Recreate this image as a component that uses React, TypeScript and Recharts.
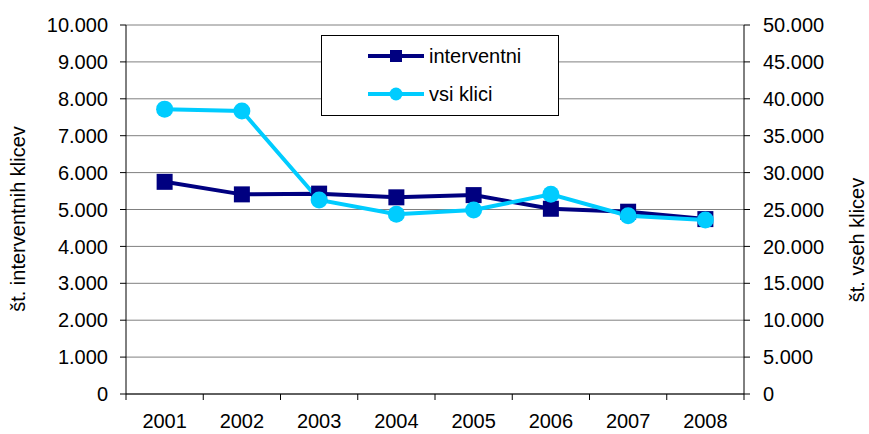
import React from "react";
import {
  LineChart,
  Line,
  XAxis,
  YAxis,
  CartesianGrid,
} from "recharts";

const years = ["2001", "2002", "2003", "2004", "2005", "2006", "2007", "2008"];
const interventni = [5750, 5410, 5430, 5330, 5390, 5020, 4940, 4740];
const vsiKlici = [38600, 38350, 26290, 24350, 24930, 27060, 24160, 23580];
const leftTicks = [0, 1000, 2000, 3000, 4000, 5000, 6000, 7000, 8000, 9000, 10000];
const rightTicks = [0, 5000, 10000, 15000, 20000, 25000, 30000, 35000, 40000, 45000, 50000];

const data = years.map((y, i) => ({
  year: y,
  interventni: interventni[i],
  vsi: vsiKlici[i],
}));

const NAVY = "#000080";
const CYAN = "#00CCFF";
const FONT = "'Liberation Sans', Arial, sans-serif";

const fmt = (v: number) => String(v).replace(/\B(?=(\d{3})+(?!\d))/g, ".");

const X_TICK_SIZE = 6;
const X_TICK_MARGIN = 14;

// category label plus a small tick at the left edge of each band (and the right edge of the last one)
const YearTick = (props: any) => {
  const { x, y, payload, index, visibleTicksCount } = props;
  const half = payload.offset || 38.6;
  const axisY = y - X_TICK_SIZE - X_TICK_MARGIN;
  return (
    <g>
      <line x1={x - half} x2={x - half} y1={axisY} y2={axisY + 6} stroke="#000" />
      {index === visibleTicksCount - 1 && (
        <line x1={x + half} x2={x + half} y1={axisY} y2={axisY + 6} stroke="#000" />
      )}
      <text x={x} y={y} dy="0.71em" textAnchor="middle" fill="#000" fontSize={20} fontFamily={FONT}>
        {payload.value}
      </text>
    </g>
  );
};

const LegendBox = () => (
  <div
    style={{
      position: "absolute",
      left: 321,
      top: 35,
      width: 238,
      height: 81,
      border: "1px solid #000",
      background: "#fff",
      boxSizing: "border-box",
    }}
  >
    <svg width={236} height={79} style={{ display: "block" }}>
      <line x1={46} x2={102} y1={20} y2={20} stroke={NAVY} strokeWidth={4} />
      <rect x={68} y={14} width={12} height={12} fill={NAVY} />
      <text x={107} y={20} dy="0.35em" fontSize={20} fontFamily={FONT} fill="#000">
        interventni
      </text>
      <line x1={46} x2={102} y1={58} y2={58} stroke={CYAN} strokeWidth={4} />
      <circle cx={74} cy={58} r={6.5} fill={CYAN} />
      <text x={107} y={58} dy="0.35em" fontSize={20} fontFamily={FONT} fill="#000">
        vsi klici
      </text>
    </svg>
  </div>
);

const SquareDot = (props: any) => {
  const { cx, cy, index } = props;
  return <rect key={`sq-${index}`} x={cx - 8} y={cy - 8} width={16} height={16} fill={NAVY} />;
};

export default function App() {
  return (
    <div style={{ position: "absolute", left: 0, top: 0, width: 869, height: 434, background: "#fff" }}>
      <LineChart
        width={869}
        height={434}
        data={data}
        margin={{ top: 25, right: 0, bottom: 0, left: 0 }}
        style={{ fontFamily: FONT }}
      >
        <CartesianGrid yAxisId="left" vertical={false} stroke="#808080" strokeWidth={1} />
        <XAxis
          dataKey="year"
          scale="band"
          height={40}
          axisLine={{ stroke: "#000" }}
          tickLine={false}
          tickSize={X_TICK_SIZE}
          tickMargin={X_TICK_MARGIN}
          tick={<YearTick />}
          interval={0}
        />
        <YAxis
          yAxisId="left"
          width={126}
          domain={[0, 10000]}
          ticks={leftTicks}
          interval={0}
          tickFormatter={fmt}
          axisLine={{ stroke: "#000" }}
          tickLine={{ stroke: "#000" }}
          tickSize={6}
          tickMargin={12}
          tick={{ fill: "#000", fontSize: 20, fontFamily: FONT }}
          label={() => (
            <text
              x={18}
              y={219}
              transform="rotate(-90 18 219)"
              textAnchor="middle"
              dominantBaseline="central"
              fontSize={20}
              fontFamily={FONT}
              fill="#000"
            >
              št. interventnih klicev
            </text>
          )}
        />
        <YAxis
          yAxisId="right"
          orientation="right"
          width={125}
          domain={[0, 50000]}
          ticks={rightTicks}
          interval={0}
          tickFormatter={fmt}
          axisLine={{ stroke: "#000" }}
          tickLine={{ stroke: "#000" }}
          tickSize={6}
          tickMargin={13}
          tick={{ fill: "#000", fontSize: 20, fontFamily: FONT }}
          label={() => (
            <text
              x={857}
              y={240}
              transform="rotate(-90 857 240)"
              textAnchor="middle"
              dominantBaseline="central"
              fontSize={20}
              fontFamily={FONT}
              fill="#000"
            >
              št. vseh klicev
            </text>
          )}
        />
        <Line
          yAxisId="left"
          dataKey="interventni"
          name="interventni"
          stroke={NAVY}
          strokeWidth={4}
          dot={<SquareDot />}
          isAnimationActive={false}
        />
        <Line
          yAxisId="right"
          dataKey="vsi"
          name="vsi klici"
          stroke={CYAN}
          strokeWidth={4}
          dot={{ r: 8.5, fill: CYAN, stroke: CYAN, strokeWidth: 0 }}
          isAnimationActive={false}
        />
      </LineChart>
      <LegendBox />
    </div>
  );
}
